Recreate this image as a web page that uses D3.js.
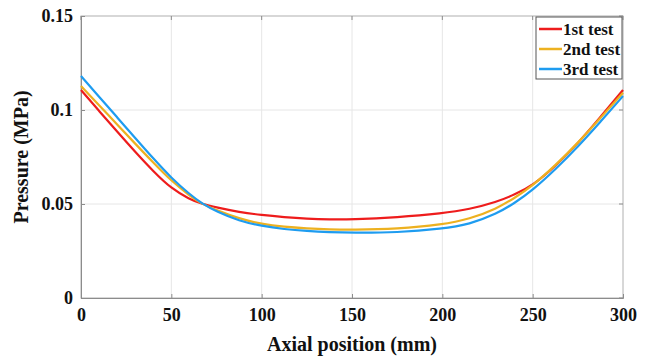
<!DOCTYPE html>
<html>
<head>
<meta charset="utf-8">
<script src="https://cdn.jsdelivr.net/npm/d3@7"></script>
<style>
  body { margin: 0; background: #fff; }
</style>
</head>
<body>
<svg id="canvas"></svg>
<script>
/***********************************************************************/
// Data

var positions = [0, 10, 20, 30, 40, 50, 60, 67, 75, 87.5, 100, 112.5, 125, 137.5, 150, 175, 200, 215, 230, 240, 250, 262.5, 275, 287.5, 300];

var test1 = [0.1106, 0.0995, 0.0885, 0.0777, 0.0674, 0.0582, 0.0526, 0.0500, 0.0482, 0.0457, 0.0441, 0.0430, 0.0422, 0.0418, 0.0418, 0.0429, 0.0450, 0.0472, 0.0510, 0.0550, 0.0598, 0.0700, 0.0822, 0.0963, 0.1106];
var test2 = [0.1128, 0.1026, 0.0923, 0.0821, 0.0720, 0.0623, 0.0545, 0.0500, 0.0467, 0.0422, 0.0393, 0.0378, 0.0370, 0.0365, 0.0363, 0.0367, 0.0390, 0.0420, 0.0475, 0.0532, 0.0598, 0.0705, 0.0824, 0.0958, 0.1092];
var test3 = [0.1181, 0.1071, 0.0961, 0.0851, 0.0742, 0.0638, 0.0553, 0.0502, 0.0460, 0.0410, 0.0383, 0.0366, 0.0356, 0.0350, 0.0347, 0.0348, 0.0368, 0.0392, 0.0447, 0.0505, 0.0574, 0.0683, 0.0804, 0.0937, 0.1074];

var seriesNames = ['1st test', '2nd test', '3rd test'];
var seriesColors = ['#ee1c1c', '#edb120', '#1e9cf0'];

var xTicks = [0, 50, 100, 150, 200, 250, 300];
var yTicks = [0, 0.05, 0.1, 0.15];

var xLabel = 'Axial position (mm)';
var yLabel = 'Pressure (MPa)';

/***********************************************************************/
// Layout

var svg_width = 652, svg_height = 358;
var plot = { left: 81, right: 623, top: 16, bottom: 298 };
var fontSerif = "'Liberation Serif'";

var svg = d3.select('#canvas').attr('width', svg_width).attr('height', svg_height);

var xScale = d3.scaleLinear().domain([0, 300]).range([plot.left, plot.right]);
var yScale = d3.scaleLinear().domain([0, 0.15]).range([plot.bottom, plot.top]);

// grid
svg.append('g').selectAll('line').data(xTicks.slice(1, -1)).enter().append('line')
  .attr('x1', d => xScale(d)).attr('x2', d => xScale(d))
  .attr('y1', plot.top).attr('y2', plot.bottom)
  .attr('stroke', '#e6e6e6').attr('stroke-width', 1);
svg.append('g').selectAll('line').data(yTicks.slice(1, -1)).enter().append('line')
  .attr('x1', plot.left).attr('x2', plot.right)
  .attr('y1', d => yScale(d)).attr('y2', d => yScale(d))
  .attr('stroke', '#e6e6e6').attr('stroke-width', 1);

// frame
svg.append('rect')
  .attr('x', plot.left).attr('y', plot.top)
  .attr('width', plot.right - plot.left).attr('height', plot.bottom - plot.top)
  .attr('fill', 'none').attr('stroke', '#b0b0b0').attr('stroke-width', 1);

// axes
var xAxis = svg.append('g').attr('transform', 'translate(0,' + plot.bottom + ')')
  .call(d3.axisBottom(xScale).tickValues(xTicks).tickSize(-4).tickPadding(8).tickFormat(d3.format('d')));
var yAxis = svg.append('g').attr('transform', 'translate(' + plot.left + ',0)')
  .call(d3.axisLeft(yScale).tickValues(yTicks).tickSize(-4).tickPadding(8).tickFormat(d => d === 0 ? '0' : String(d)));

[xAxis, yAxis].forEach(a => {
  a.attr('font-family', fontSerif).attr('font-size', 18).attr('font-weight', 'bold');
  a.select('.domain').attr('stroke', '#8c8c8c');
  a.selectAll('.tick line').attr('stroke', '#8c8c8c');
  a.selectAll('.tick text').attr('fill', '#111');
});
xAxis.selectAll('.tick text').attr('dy', '0.85em');

// top/right ticks (MATLAB box)
svg.append('g').selectAll('line').data(xTicks).enter().append('line')
  .attr('x1', d => xScale(d)).attr('x2', d => xScale(d))
  .attr('y1', plot.top).attr('y2', plot.top + 4).attr('stroke', '#8c8c8c');
svg.append('g').selectAll('line').data(yTicks).enter().append('line')
  .attr('x1', plot.right - 4).attr('x2', plot.right)
  .attr('y1', d => yScale(d)).attr('y2', d => yScale(d)).attr('stroke', '#8c8c8c');

// lines
var line = d3.line().x(d => xScale(d[0])).y(d => yScale(d[1])).curve(d3.curveBasis);
[test1, test2, test3].forEach((s, i) => {
  svg.append('path')
    .datum(positions.map((p, j) => [p, s[j]]))
    .attr('d', line)
    .attr('fill', 'none')
    .attr('stroke', seriesColors[i])
    .attr('stroke-width', 2.2);
});

// labels
svg.append('text').attr('x', (plot.left + plot.right) / 2).attr('y', 351)
  .attr('text-anchor', 'middle').attr('font-family', fontSerif).attr('font-weight', 'bold')
  .attr('font-size', 20).attr('fill', '#111').text(xLabel);
svg.append('text').attr('transform', 'translate(28,' + ((plot.top + plot.bottom) / 2) + ') rotate(-90)')
  .attr('text-anchor', 'middle').attr('font-family', fontSerif).attr('font-weight', 'bold')
  .attr('font-size', 20).attr('fill', '#111').text(yLabel);

// legend
var legend = svg.append('g').attr('font-family', fontSerif).attr('font-weight', 'bold');
legend.append('rect').attr('x', 536).attr('y', 17).attr('width', 86).attr('height', 62)
  .attr('fill', '#fff').attr('stroke', '#555').attr('stroke-width', 1);
seriesNames.forEach((name, i) => {
  var y = 29 + i * 20;
  legend.append('line').attr('x1', 539).attr('x2', 562).attr('y1', y).attr('y2', y)
    .attr('stroke', seriesColors[i]).attr('stroke-width', 2.5);
  legend.append('text').attr('x', 563).attr('y', y).attr('dy', '0.35em')
    .attr('font-size', 17).attr('fill', '#111').text(name);
});
</script>
</body>
</html>
